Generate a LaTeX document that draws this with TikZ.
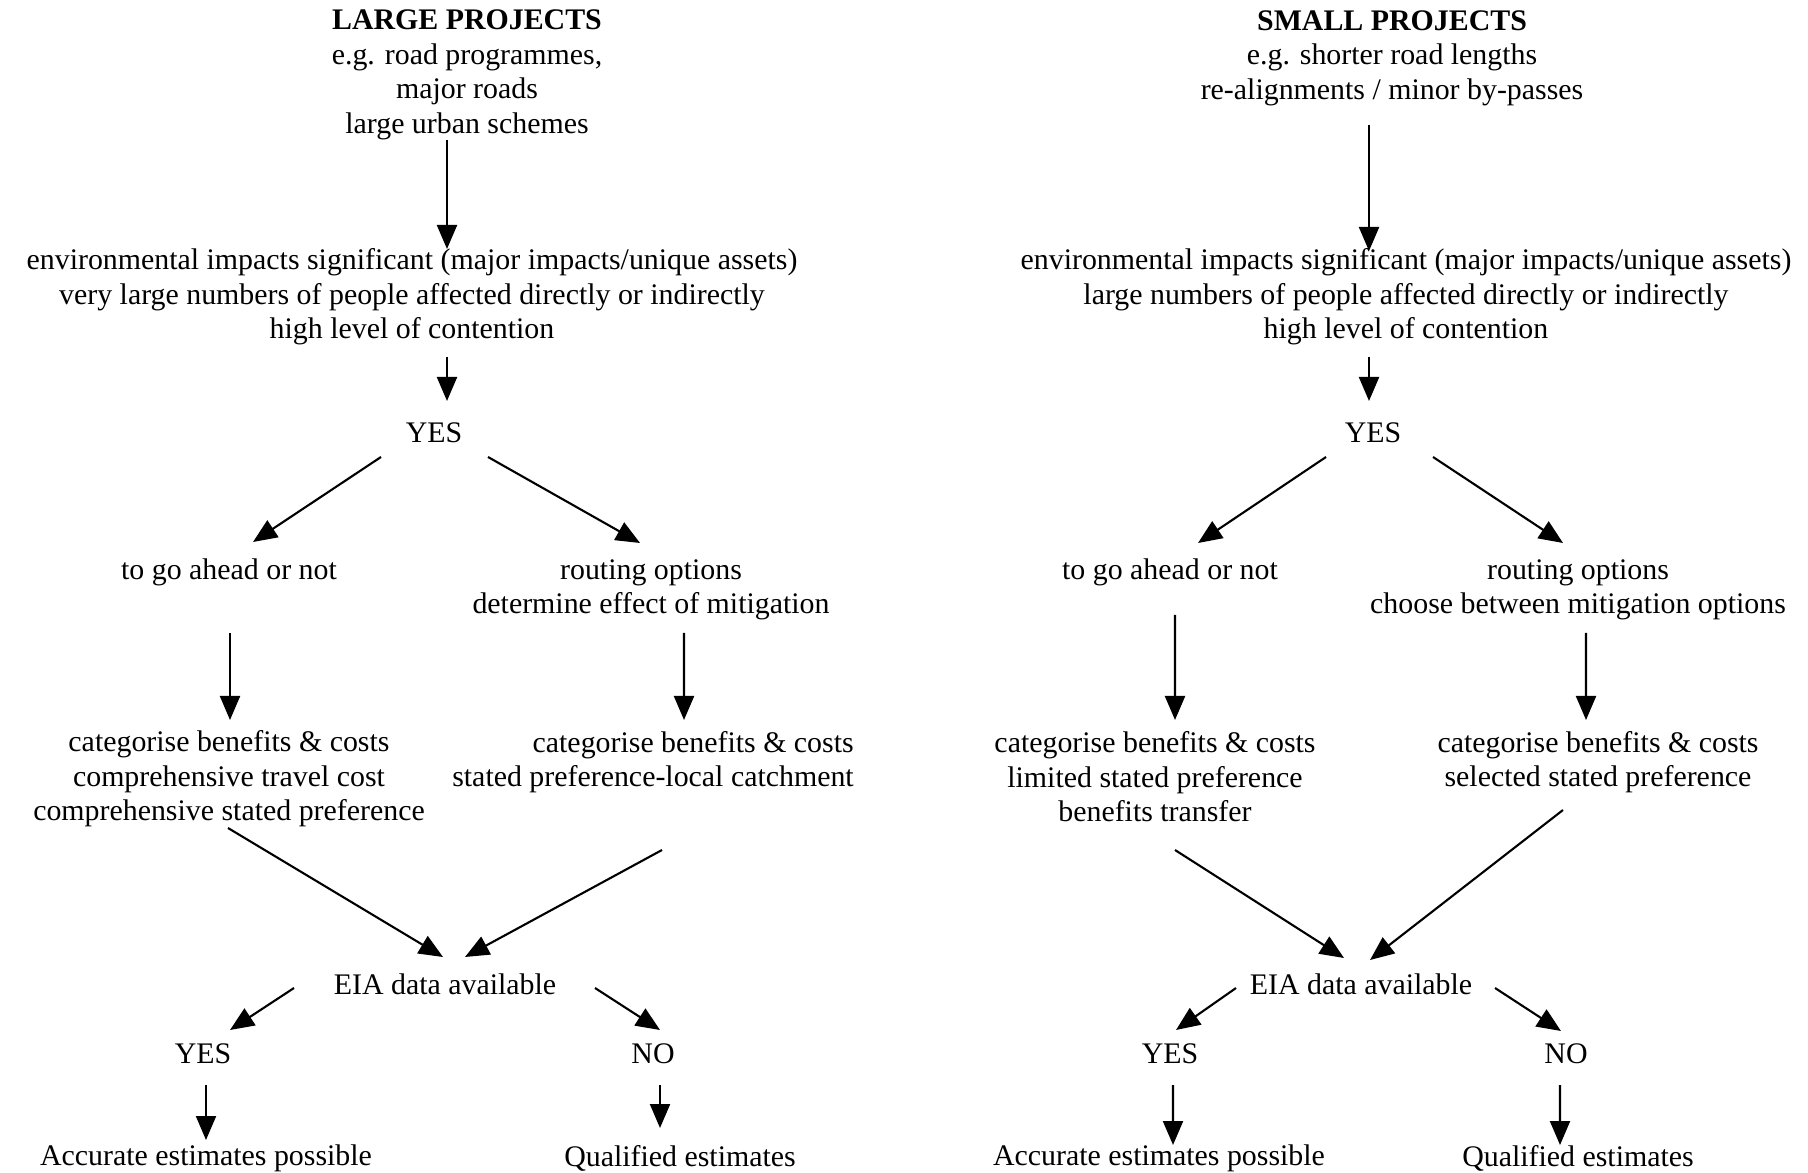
\documentclass[tikz,border=0pt]{standalone}
\usepackage{fontspec}
\setmainfont{Liberation Serif}
\usepackage{tikz}
\usetikzlibrary{arrows.meta}

\begin{document}
\begin{tikzpicture}[
		txt/.style={align=center,inner sep=0pt,font=\fontsize{8.5}{9.85}\selectfont},
		arr/.style={-{Triangle[length=0.24cm,width=0.2cm]},line width=0.6pt}]
			\path[use as bounding box,fill=white] (0,0) rectangle (18.08,-11.73);
			\node[txt] (title1) at (4.67,-0.75) {\textbf{LARGE PROJECTS}\\e.g. road programmes,\\major roads\\large urban schemes};
			\node[txt] (title2) at (13.92,-0.58) {\textbf{SMALL PROJECTS}\\e.g. shorter road lengths\\re-alignments / minor by-passes};
			\node[txt] (env1) at (4.12,-2.97) {environmental impacts significant (major impacts/unique assets)\\very large numbers of people affected directly or indirectly\\high level of contention};
			\node[txt] (env2) at (14.06,-2.97) {environmental impacts significant (major impacts/unique assets)\\large numbers of people affected directly or indirectly\\high level of contention};
			\node[txt] (yes1) at (4.34,-4.33) {YES};
			\node[txt] (yes2) at (13.73,-4.33) {YES};
			\node[txt] (ahead1) at (2.29,-5.72) {to go ahead or not};
			\node[txt] (ahead2) at (11.70,-5.72) {to go ahead or not};
			\node[txt] (route1) at (6.51,-5.90) {routing options\\determine effect of mitigation};
			\node[txt] (route2) at (15.78,-5.90) {routing options\\choose between mitigation options};
			\node[txt] (cat1) at (2.29,-7.79) {categorise benefits \& costs\\comprehensive travel cost\\comprehensive stated preference};
			\node[txt,align=right] (cat2) at (6.53,-7.62) {categorise benefits \& costs\\stated preference-local catchment};
			\node[txt] (cat3) at (11.55,-7.77) {categorise benefits \& costs\\limited stated preference\\benefits transfer};
			\node[txt] (cat4) at (15.98,-7.62) {categorise benefits \& costs\\selected stated preference};
			\node[txt] (eia1) at (4.45,-9.84) {EIA data available};
			\node[txt] (eia2) at (13.61,-9.84) {EIA data available};
			\node[txt] (yes3) at (2.03,-10.54) {YES};
			\node[txt] (no1) at (6.53,-10.54) {NO};
			\node[txt] (yes4) at (11.70,-10.54) {YES};
			\node[txt] (no2) at (15.66,-10.54) {NO};
			\node[txt] (acc1) at (2.06,-11.58) {Accurate estimates possible};
			\node[txt] (qual1) at (6.80,-11.58) {Qualified estimates};
			\node[txt] (acc2) at (11.59,-11.58) {Accurate estimates possible};
			\node[txt] (qual2) at (15.78,-11.58) {Qualified estimates};
			\draw[arr] ([shift={(-0.20,-0.65)}]title1.center) -- ([shift={(0.35,0.48)}]env1.center);
			\draw[arr] ([shift={(0.35,-0.60)}]env1.center) -- ([shift={(0.13,0.32)}]yes1.center);
			\draw[arr] ([shift={(-0.53,-0.24)}]yes1.center) -- ([shift={(0.24,0.30)}]ahead1.center);
			\draw[arr] ([shift={(0.54,-0.24)}]yes1.center) -- ([shift={(-0.11,0.47)}]route1.center);
			\draw[arr] ([shift={(0.01,-0.61)}]ahead1.center) -- ([shift={(0.01,0.59)}]cat1.center);
			\draw[arr] ([shift={(0.33,-0.43)}]route1.center) -- ([shift={(0.31,0.42)}]cat2.center);
			\draw[arr] ([shift={(-0.01,-0.49)}]cat1.center) -- ([shift={(-0.02,0.27)}]eia1.center);
			\draw[arr] ([shift={(0.09,-0.88)}]cat2.center) -- ([shift={(0.20,0.27)}]eia1.center);
			\draw[arr] ([shift={(-1.51,-0.04)}]eia1.center) -- ([shift={(0.27,0.24)}]yes3.center);
			\draw[arr] ([shift={(1.50,-0.04)}]eia1.center) -- ([shift={(0.07,0.24)}]no1.center);
			\draw[arr] ([shift={(0.03,-0.31)}]yes3.center) -- ([shift={(0.00,0.18)}]acc1.center);
			\draw[arr] ([shift={(0.07,-0.31)}]no1.center) -- ([shift={(-0.20,0.30)}]qual1.center);
			\draw[arr] ([shift={(-0.23,-0.67)}]title2.center) -- ([shift={(-0.37,0.46)}]env2.center);
			\draw[arr] ([shift={(-0.37,-0.60)}]env2.center) -- ([shift={(-0.04,0.32)}]yes2.center);
			\draw[arr] ([shift={(-0.47,-0.24)}]yes2.center) -- ([shift={(0.28,0.29)}]ahead2.center);
			\draw[arr] ([shift={(0.60,-0.24)}]yes2.center) -- ([shift={(-0.15,0.47)}]route2.center);
			\draw[arr] ([shift={(0.05,-0.43)}]ahead2.center) -- ([shift={(0.20,0.57)}]cat3.center);
			\draw[arr] ([shift={(0.08,-0.43)}]route2.center) -- ([shift={(-0.12,0.42)}]cat4.center);
			\draw[arr] ([shift={(0.20,-0.73)}]cat3.center) -- ([shift={(-0.17,0.26)}]eia2.center);
			\draw[arr] ([shift={(-0.35,-0.48)}]cat4.center) -- ([shift={(0.09,0.24)}]eia2.center);
			\draw[arr] ([shift={(-1.25,-0.04)}]eia2.center) -- ([shift={(0.06,0.24)}]yes4.center);
			\draw[arr] ([shift={(1.34,-0.04)}]eia2.center) -- ([shift={(-0.05,0.23)}]no2.center);
			\draw[arr] ([shift={(0.03,-0.31)}]yes4.center) -- ([shift={(0.14,0.13)}]acc2.center);
			\draw[arr] ([shift={(-0.06,-0.31)}]no2.center) -- ([shift={(-0.18,0.13)}]qual2.center);
		\end{tikzpicture}
\end{document}
